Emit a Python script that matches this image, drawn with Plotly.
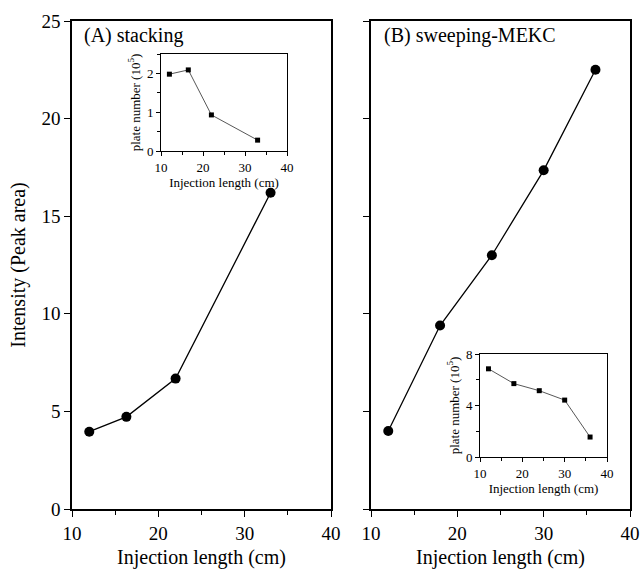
import plotly.graph_objects as go

# ---- data ----
stack_x = [12, 16.3, 22, 33]
stack_y = [3.96, 4.72, 6.68, 16.2]
sweep_x = [12, 18, 24, 30, 36]
sweep_y = [4.0, 9.4, 13.0, 17.35, 22.5]
inset_a_x = [12, 16.5, 22, 33]
inset_a_y = [1.98, 2.09, 0.93, 0.28]
inset_b_x = [12, 18, 24, 30, 36]
inset_b_y = [6.85, 5.7, 5.15, 4.42, 1.55]
x_ticks = [10, 20, 30, 40]
main_y_ticks = [0, 5, 10, 15, 20, 25]
inset_a_y_ticks = [0, 1, 2]
inset_b_y_ticks = [0, 4, 8]
panel_labels = ["(A) stacking", "(B) sweeping-MEKC"]
x_title = "Injection length (cm)"
y_title = "Intensity (Peak area)"
inset_y_title = "plate number (10<sup>5</sup>)"
inset_x_title = "Injection length (cm)"

FONT = "Liberation Serif"
W, H = 642, 569

def px_x(a, b):
    return [a / W, b / W]

def px_y(top, bottom):
    return [1 - bottom / H, 1 - top / H]

fig = go.Figure()

main_line = dict(color="black", width=1.3)
main_marker = dict(color="black", size=10, symbol="circle")
inset_line = dict(color="#444", width=0.9)
inset_marker = dict(color="black", size=5, symbol="square")

fig.add_trace(go.Scatter(x=stack_x, y=stack_y, mode="lines+markers", line=main_line,
                         marker=main_marker, xaxis="x", yaxis="y", showlegend=False))
fig.add_trace(go.Scatter(x=sweep_x, y=sweep_y, mode="lines+markers", line=main_line,
                         marker=main_marker, xaxis="x2", yaxis="y2", showlegend=False))
fig.add_trace(go.Scatter(x=inset_a_x, y=inset_a_y, mode="lines+markers", line=inset_line,
                         marker=inset_marker, xaxis="x3", yaxis="y3", showlegend=False))
fig.add_trace(go.Scatter(x=inset_b_x, y=inset_b_y, mode="lines+markers", line=inset_line,
                         marker=inset_marker, xaxis="x4", yaxis="y4", showlegend=False))

def main_x(domain, anchor):
    return dict(domain=domain, anchor=anchor, range=[10, 40], tickvals=x_ticks,
                automargin=False,
                showline=True, mirror=True, linecolor="black", linewidth=1.5,
                ticks="outside", ticklen=6, tickwidth=1.2, tickcolor="black",
                minor=dict(dtick=5, tick0=10, ticks="outside", ticklen=4, tickcolor="black"),
                showgrid=False, zeroline=False,
                tickfont=dict(family=FONT, size=19, color="black"),
                title=dict(text=x_title, font=dict(family=FONT, size=20, color="black"), standoff=14))

def main_y(domain, anchor, labels):
    return dict(domain=domain, anchor=anchor, range=[0, 25], tickvals=main_y_ticks,
                automargin=False,
                showline=True, mirror=True, linecolor="black", linewidth=1.5,
                ticks="outside", ticklen=6, tickwidth=1.2, tickcolor="black",
                showticklabels=labels, showgrid=False, zeroline=False,
                tickfont=dict(family=FONT, size=19, color="black"))

def inset_x(domain, anchor):
    return dict(domain=domain, anchor=anchor, range=[10, 40], tickvals=x_ticks,
                automargin=False,
                showline=True, mirror=True, linecolor="black", linewidth=1,
                ticks="outside", ticklen=4, tickcolor="black",
                minor=dict(dtick=5, tick0=10, ticks="outside", ticklen=3, tickcolor="black"),
                showgrid=False, zeroline=False,
                tickfont=dict(family=FONT, size=13, color="black"),
                title=dict(text=inset_x_title, font=dict(family=FONT, size=13, color="black"), standoff=2))

def inset_y(domain, anchor, rng, vals, minor_dtick):
    return dict(domain=domain, anchor=anchor, range=rng, tickvals=vals,
                automargin=False,
                showline=True, mirror=True, linecolor="black", linewidth=1,
                ticks="outside", ticklen=4, tickcolor="black",
                minor=dict(dtick=minor_dtick, tick0=0, ticks="outside", ticklen=3, tickcolor="black"),
                showgrid=False, zeroline=False,
                tickfont=dict(family=FONT, size=13, color="black"),
                title=dict(text=inset_y_title, font=dict(family=FONT, size=13, color="black"), standoff=3))

main_ydom = px_y(21, 509)
ly = main_y(main_ydom, "x", True)
ly["title"] = dict(text=y_title, font=dict(family=FONT, size=20, color="black"), standoff=10)

fig.update_layout(
    width=W, height=H,
    margin=dict(l=0, r=0, t=0, b=0, autoexpand=False),
    paper_bgcolor="white", plot_bgcolor="white",
    xaxis=main_x(px_x(72, 331), "y"),
    yaxis=ly,
    xaxis2=main_x(px_x(371, 630), "y2"),
    yaxis2=main_y(main_ydom, "x2", False),
    xaxis3=inset_x(px_x(161, 287), "y3"),
    yaxis3=inset_y(px_y(54, 151), "x3", [0, 2.5], inset_a_y_ticks, 0.5),
    xaxis4=inset_x(px_x(480, 607), "y4"),
    yaxis4=inset_y(px_y(354, 457), "x4", [0, 8], inset_b_y_ticks, 2),
    annotations=[
        dict(text=panel_labels[0], x=82 / W, y=1 - 36 / H, xref="paper", yref="paper",
             xanchor="left", yanchor="middle", showarrow=False,
             font=dict(family=FONT, size=20, color="black")),
        dict(text=panel_labels[1], x=382 / W, y=1 - 36 / H, xref="paper", yref="paper",
             xanchor="left", yanchor="middle", showarrow=False,
             font=dict(family=FONT, size=20, color="black")),
    ],
)

fig.write_html("out.html", config={"displayModeBar": False},
               post_script="document.body.style.margin='0px';document.body.style.overflow='hidden';")
